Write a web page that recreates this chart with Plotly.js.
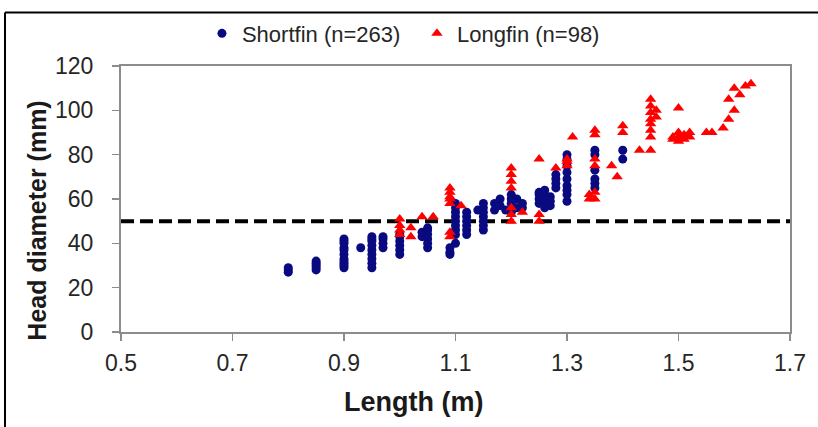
<!DOCTYPE html>
<html>
<head>
<meta charset="utf-8">
<script src="https://cdn.plot.ly/plotly-3.0.1.min.js"></script>
<style>html,body{margin:0;padding:0;background:#fff;}#chart{width:818px;height:427px;}</style>
</head>
<body>
<div id="chart"></div>
<script>
// Shortfin: length (m) and head diameter (mm)
const shortLength = [
  0.80,0.80,0.80,
  0.85,0.85,0.85,0.85,0.85,
  0.90,0.90,0.90,0.90,0.90,0.90,0.90,0.90,0.90,0.90,0.90,
  0.93,
  0.95,0.95,0.95,0.95,0.95,0.95,0.95,0.95,0.95,
  0.97,0.97,0.97,0.97,
  1.00,1.00,1.00,1.00,1.00,1.00,
  1.04,1.04,
  1.05,1.05,1.05,1.05,1.05,1.05,
  1.09,1.09,1.09,
  1.10,1.10,1.10,1.10,1.10,1.10,1.10,1.10,1.10,
  1.12,1.12,1.12,1.12,1.12,1.12,
  1.14,
  1.15,1.15,1.15,1.15,1.15,1.15,1.15,
  1.17,1.17,
  1.18,1.18,
  1.19,
  1.20,1.20,1.20,1.20,
  1.21,1.21,
  1.22,1.22,
  1.25,1.25,1.25,1.25,
  1.26,1.26,1.26,1.26,1.26,
  1.27,1.27,1.27,
  1.28,1.28,1.28,1.28,
  1.30,1.30,1.30,1.30,1.30,1.30,1.30,1.30,1.30,
  1.35,1.35,1.35,1.35,1.35,1.35,
  1.40,1.40
];
const shortHead = [
  27,28,29,
  28,29,30,31,32,
  29,30,31,32,33,35,37,38,40,41,42,
  38,
  29,31,33,35,37,39,41,42,43,
  38,40,42,43,
  35,37,39,41,43,44,
  43,45,
  38,40,42,44,46,47,
  35,36,38,
  40,44,46,48,50,52,54,56,58,
  44,46,48,50,52,54,
  55,
  46,48,50,52,54,56,58,
  55,58,
  57,60,
  55,
  54,58,60,62,
  56,60,
  56,58,
  58,60,62,63,
  56,58,60,62,64,
  57,59,61,
  65,67,69,71,
  59,62,64,66,69,72,75,78,80,
  65,67,69,73,80,82,
  78,82
];
// Longfin: length (m) and head diameter (mm)
const longLength = [
  1.00,1.00,1.00,1.00,
  1.02,1.02,
  1.04,1.06,
  1.09,1.09,1.09,1.09,1.09,1.09,1.09,
  1.11,
  1.20,1.20,1.20,1.20,1.20,1.20,1.20,
  1.22,
  1.25,1.25,1.25,
  1.28,
  1.30,1.30,1.30,
  1.31,
  1.34,1.34,
  1.35,1.35,1.35,1.35,1.35,1.35,
  1.38,1.39,
  1.40,1.40,
  1.43,
  1.45,1.45,1.45,1.45,1.45,1.45,1.45,1.45,
  1.46,1.46,
  1.49,1.49,
  1.50,1.50,1.50,1.50,
  1.51,1.51,
  1.52,1.52,
  1.55,1.56,1.58,
  1.59,1.59,
  1.60,1.60,
  1.61,1.62,1.63
];
const longHead = [
  44,46,48,51,
  43,47,
  52,52,
  43,45,58,60,61,63,65,
  57,
  50,53,56,65,68,71,74,
  54,
  50,53,78,
  74,
  75,77,78,
  88,
  60,62,
  60,63,75,78,89,91,
  75,70,
  90,93,
  82,
  82,88,91,94,96,99,102,105,
  97,100,
  87,88,
  86,88,90,101,
  87,89,
  88,90,
  90,90,92,
  96,105,
  100,110,
  107,111,112
];
const seriesNames = ["Shortfin (n=263)", "Longfin (n=98)"];
const thresholdX = [0.5, 1.7];
const thresholdY = [50, 50];
const xTicks = [0.5, 0.7, 0.9, 1.1, 1.3, 1.5, 1.7];
const yTicks = [0, 20, 40, 60, 80, 100, 120];
const xTitle = "Length (m)";
const yTitle = "Head diameter (mm)";

const font = "Liberation Sans, Arial, sans-serif";

const traces = [
  {
    x: thresholdX, y: thresholdY, mode: "lines", showlegend: false, hoverinfo: "skip",
    line: {color: "#000000", width: 4, dash: "13px,6px"}
  },
  {
    x: shortLength, y: shortHead, mode: "markers", name: seriesNames[0],
    marker: {symbol: "circle", size: 9, color: "#0a0a80"}
  },
  {
    x: longLength, y: longHead, mode: "markers", name: seriesNames[1],
    marker: {symbol: "triangle-up", size: 10, color: "#ff0000"}
  }
];

const axisCommon = {
  showgrid: false, zeroline: false, showline: true, mirror: true,
  linecolor: "#8c8c8c", linewidth: 2,
  ticks: "outside", ticklen: 7, tickwidth: 1.5, tickcolor: "#8c8c8c",
  tickfont: {family: font, size: 23, color: "#262626"}
};

const layout = {
  width: 818, height: 427,
  margin: {l: 121, r: 28, t: 64, b: 95},
  paper_bgcolor: "#ffffff", plot_bgcolor: "#ffffff",
  font: {family: font, color: "#262626"},
  showlegend: true,
  legend: {
    orientation: "h", x: 0.121, xanchor: "left", y: 1.122, yanchor: "middle",
    bgcolor: "rgba(0,0,0,0)",
    font: {family: font, size: 22, color: "#262626"}, itemwidth: 30,
    entrywidth: 170, entrywidthmode: "pixels"
  },
  xaxis: Object.assign({}, axisCommon, {
    range: [0.5, 1.7], tickvals: xTicks, ticktext: xTicks.map(v => v.toFixed(1)),
    ticklabelstandoff: 2
  }),
  yaxis: Object.assign({}, axisCommon, {
    range: [0, 120], tickvals: yTicks, ticktext: yTicks.map(String),
    ticklabelstandoff: 14
  }),
  annotations: [
    {text: "<b>" + xTitle + "</b>", xref: "paper", yref: "paper", x: 0.4365, y: -0.265,
     xanchor: "center", yanchor: "middle", showarrow: false,
     font: {family: font, size: 27, color: "#1a1a1a"}},
    {text: "<b>" + yTitle + "</b>", xref: "paper", yref: "paper", x: -0.125, y: 0.42,
     xanchor: "center", yanchor: "middle", showarrow: false, textangle: -90,
     font: {family: font, size: 25, color: "#1a1a1a"}}
  ],
  shapes: [
    {type: "line", xref: "paper", yref: "paper", x0: -0.1734, x1: 1.05, y0: 1.2015, y1: 1.2015,
     line: {color: "#000", width: 2}},
    {type: "line", xref: "paper", yref: "paper", x0: -0.1734, x1: -0.1734, y0: 1.2015, y1: -0.4,
     line: {color: "#000", width: 2}}
  ]
};

Plotly.newPlot("chart", traces, layout, {displayModeBar: false, staticPlot: true});
</script>
</body>
</html>
